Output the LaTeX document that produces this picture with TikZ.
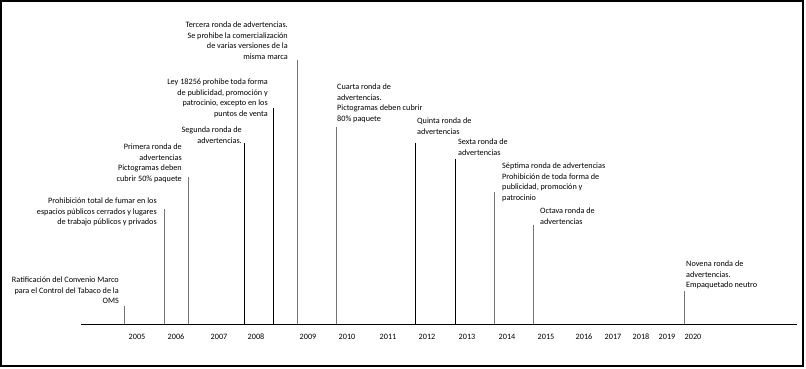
\documentclass[tikz,border=0pt]{standalone}
\usepackage{fontspec}
\setmainfont{Carlito}
\begin{document}
\begin{tikzpicture}[x=1pt,y=-1pt,
  ev/.style={inner sep=0pt,font=\fontsize{8.2}{10.5}\selectfont},
  evr/.style={ev,align=right,anchor=north east},
  evl/.style={ev,align=left,anchor=north west},
  yr/.style={inner sep=0pt,font=\fontsize{8.2}{10}\selectfont},
  lg/.style={draw=black!55,line width=0.9pt},
  lb/.style={draw=black,line width=0.9pt}]
\useasboundingbox (0,0) rectangle (806,369);
\draw[line width=2pt] (1,1) rectangle (803,366);
% axis
\coordinate (a0) at (81,324);
\coordinate (a1) at (797,324);
\draw[line width=1pt] (a0) -- (a1);
% years
\foreach \x/\y in {137/2005,176/2006,219/2007,256/2008,308/2009,347/2010,388/2011,427/2012,467/2013,507/2014,546/2015,584/2016,613/2017,641/2018,667/2019,693/2020}
  \node[yr] (y\y) at (\x,337) {\y};
% event texts
\node[evr] (e1) at (119,277) {Ratificación del Convenio Marco\\para el Control del Tabaco de la\\OMS};
\node[evr] (e2) at (157,198) {Prohibición total de fumar en los\\espacios públicos cerrados y lugares\\de trabajo públicos y privados};
\node[evr] (e3) at (182,144) {Primera ronda de\\advertencias\\Pictogramas deben\\cubrir 50\% paquete};
\node[evr] (e4) at (242,127) {Segunda ronda de\\advertencias.};
\node[evr] (e5) at (268,79) {Ley 18256 prohibe toda forma\\de publicidad, promoción y\\patrocinio, excepto en los\\puntos de venta};
\node[evr] (e6) at (288,22) {Tercera ronda de advertencias.\\Se prohibe la comercialización\\de varias versiones de la\\misma marca};
\node[evl] (e7) at (337,84) {Cuarta ronda de\\advertencias.\\Pictogramas deben cubrir\\80\% paquete};
\node[evl] (e8) at (417,118) {Quinta ronda de\\advertencias};
\node[evl] (e9) at (458,139) {Sexta ronda de\\advertencias};
\node[evl] (e10) at (502,163) {Séptima ronda de advertencias\\Prohibición de toda forma de\\publicidad, promoción y\\patrocinio};
\node[evl] (e11) at (540,208) {Octava ronda de\\advertencias};
\node[evl] (e12) at (686,261) {Novena ronda de\\advertencias.\\Empaquetado neutro};
% markers
\foreach \i/\x/\t/\s in {1/124/306/lg,2/164/209/lg,3/188/177/lg,4/244/143/lb,5/273/108/lb,6/297/60/lg,7/336/127/lg,8/415/143/lb,9/455/159/lb,10/494/192/lg,11/533/225/lg,12/684/291/lg}{
  \coordinate (t\i) at (\x,\t);
  \draw[\s] (t\i) -- (t\i |- a0);
}
\end{tikzpicture}
\end{document}
